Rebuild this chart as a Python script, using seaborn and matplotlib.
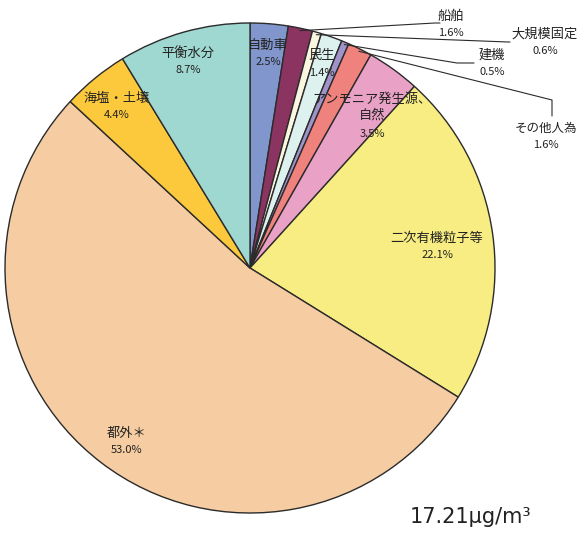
import matplotlib
matplotlib.use("Agg")
import matplotlib.pyplot as plt
import seaborn as sns
import numpy as np

# slices, clockwise from 12 o'clock
sources = ["自動車", "船舶", "大規模固定", "民生", "建機", "その他人為",
           "アンモニア発生源、\n自然", "二次有機粒子等", "都外＊", "海塩・土壌", "平衡水分"]
shares = [2.5, 1.6, 0.6, 1.4, 0.5, 1.6, 3.5, 22.1, 53.0, 4.4, 8.7]
colors = ["#8096cc", "#8c3461", "#fbf6df", "#ddf1ee", "#a093c9", "#f0827e",
          "#e9a1c6", "#f8ed82", "#f6cca2", "#fdc93c", "#9fd7d1"]
total_label = "17.21μg/m³"

sns.set_theme(style="white")
plt.rcParams["font.family"] = ["Noto Sans CJK JP", "DejaVu Sans"]

W, H = 581, 533
fig = plt.figure(figsize=(W / 100, H / 100), dpi=100)
cx, cy, r = 250, 268, 245
ax = fig.add_axes([(cx - r) / W, (H - cy - r) / H, 2 * r / W, 2 * r / H])

wedges, _ = ax.pie(shares, colors=colors, startangle=90, counterclock=False,
                   radius=1.0, wedgeprops=dict(edgecolor="#2b2b2b", linewidth=1.0))
ax.set_xlim(-1, 1)
ax.set_ylim(-1, 1)
ax.set_aspect("equal")
ax.axis("off")


def px(x, y):
    return (x - cx) / r, (cy - y) / r


def edge(w, rr=1.0):
    a = np.deg2rad((w.theta1 + w.theta2) / 2)
    return rr * np.cos(a), rr * np.sin(a)


txt = "#222222"
# label pixel positions (x, y of the name)
pos = {
    "自動車": (268, 45),
    "船舶": (451, 16),
    "大規模固定": (545, 34),
    "民生": (322, 56),
    "建機": (492, 55),
    "その他人為": (546, 128),
    "アンモニア発生源、\n自然": (372, 99),
    "二次有機粒子等": (437, 238),
    "都外＊": (127, 433),
    "海塩・土壌": (117, 98),
    "平衡水分": (188, 53),
}
for name, val in zip(sources, shares):
    x, y = pos[name]
    nlines = name.count("\n") + 1
    fs = 9.0 if name == "その他人為" else 9.5
    ax.text(*px(x, y + 8 * (nlines - 1)), name, ha="center", va="center",
            fontsize=fs, color=txt, linespacing=1.25)
    ax.text(*px(x, y + 17 + 18 * (nlines - 1)), f"{val:.1f}%", ha="center",
            va="center", fontsize=8, color=txt)

# leader lines for thin slices
lw = 0.8
leaders = {
    "船舶": [(435, 23), (440, 23)],
    "大規模固定": [(508, 42), (510, 42)],
    "建機": [(457, 63), (474, 63)],
    "その他人為": [(552, 100), (552, 116)],
}
for name, pts in leaders.items():
    w = wedges[sources.index(name)]
    start = edge(w, 0.99)
    path = [start] + [px(*p) for p in pts]
    xs, ys = zip(*path)
    ax.plot(xs, ys, color="#2b2b2b", lw=lw, clip_on=False)

fig.text(470 / W, 1 - 517 / H, total_label, ha="center", va="center",
         fontsize=15, color=txt, family=["DejaVu Sans"])

fig.savefig("out.png", dpi=100)
